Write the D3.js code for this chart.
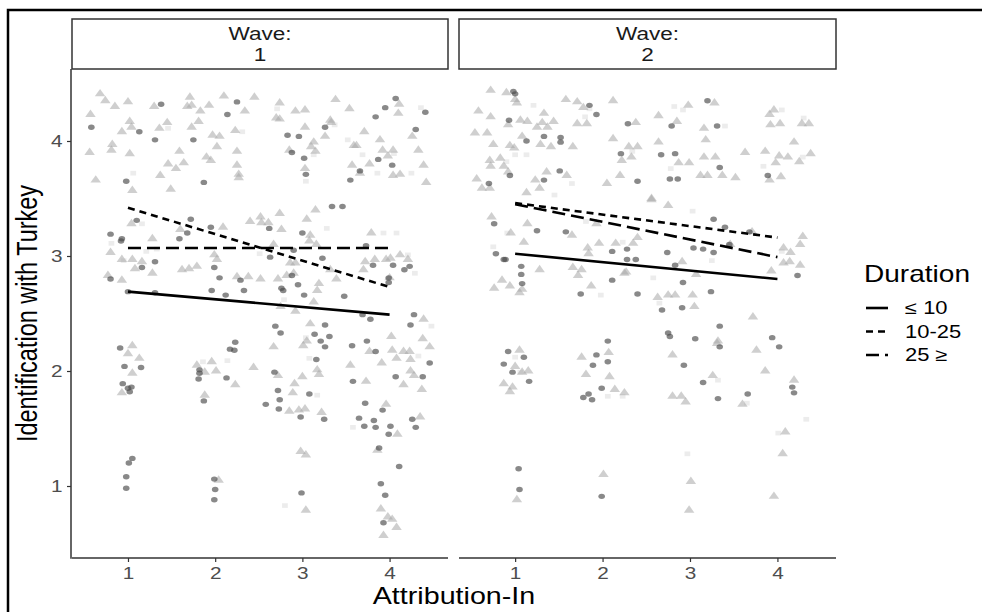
<!DOCTYPE html>
<html>
<head>
<meta charset="utf-8">
<script src="https://cdn.jsdelivr.net/npm/d3@7"></script>
<style>
  body { margin: 0; background: #fff; }
  svg { display: block; font-family: "Liberation Sans", Arial, sans-serif; }
</style>
</head>
<body>
<svg width="982" height="612"></svg>
<script>
// legend groups and facet labels
const durations = ["≤ 10", "10-25", "25 ≥"]
const waves = ["1", "2"]
const xTicks = [1, 2, 3, 4]
const yTicks = [1, 2, 3, 4]

// fitted lines, value at x = 1 and x = 4, in durations order
const fitW1Start = [2.69, 3.42, 3.07]
const fitW1End = [2.49, 2.73, 3.07]
const fitW2Start = [3.02, 3.46, 3.45]
const fitW2End = [2.80, 3.16, 2.99]

// jittered respondents, [attribution, identification]
const w1Le10 = [[0.58,4.12],[1.38,4.32],[1.13,4.08],[1.31,4.01],[0.98,3.65],[1.75,4.01],[1.87,3.64],[2.14,4.23],[2.25,4.34],[2.83,4.05],[2.96,4.04],[2.88,3.90],[3.02,3.85],[3.04,3.71],[3.26,4.12],[3.84,4.21],[3.95,4.29],[4.07,4.37],[4.30,4.10],[4.41,4.25],[3.87,3.84],[4.03,3.79],[3.66,3.74],[3.55,3.66],
  [1.10,3.31],[0.80,3.19],[0.93,3.15],[0.92,3.13],[0.80,2.80],[1.00,2.69],[1.31,2.95],[1.31,2.68],[1.16,2.90],[1.59,3.15],[1.68,3.20],[1.72,3.32],[1.99,2.90],[1.95,3.25],[2.05,2.81],[1.96,2.70],[2.12,2.66],[2.29,2.79],[2.33,2.70],[2.62,3.24],[2.63,2.99],[2.90,3.05],[2.76,2.72],[2.78,2.70],[2.88,2.83],[2.95,2.75],[3.00,3.20],[3.02,2.66],[3.23,2.98],[3.34,3.43],[3.46,3.43],[3.48,2.65],[3.73,3.09],[3.81,2.92],[3.99,2.77],[3.99,2.81],[4.04,2.92],[4.17,2.88],[4.23,2.91],[4.28,2.49],[4.24,2.40],[3.78,2.45],[3.69,2.49],[3.26,2.40],[2.69,2.39],
  [0.91,2.20],[0.96,2.04],[1.15,2.03],[0.94,1.89],[1.00,1.85],[1.04,1.86],[1.02,1.82],[1.05,1.24],[1.01,1.20],[0.98,1.08],[0.98,0.98],[2.23,2.25],[2.17,2.19],[2.22,2.18],[1.82,2.01],[1.82,1.98],[1.81,1.93],[2.13,1.94],[1.87,1.74],[1.99,1.06],[2.00,0.97],[1.99,0.88],[2.75,2.33],[2.68,1.99],[2.72,1.83],[2.74,1.75],[2.58,1.71],[2.73,1.67],[3.08,1.80],[2.98,1.60],[3.25,1.58],[3.16,2.10],[3.14,2.32],[3.21,2.26],[3.31,2.30],[3.26,2.21],[2.99,0.94],[3.57,2.22],[3.74,2.26],[3.84,2.17],[3.58,1.91],[3.72,1.72],[3.65,1.59],[3.71,1.52],[3.82,1.57],[3.84,1.51],[4.01,1.52],[3.92,1.66],[3.99,1.45],[4.07,1.95],[4.38,1.95],[4.46,2.07],[4.26,1.58],[4.30,1.51],[3.88,1.33],[4.11,1.17],[3.90,1.02],[3.95,0.92],[3.93,0.68]]

const w1Mid = [[0.57,4.23],[0.56,3.90],[0.68,4.41],[0.74,4.35],[0.85,4.30],[1.00,4.34],[0.82,3.97],[0.81,3.92],[1.02,3.89],[1.02,4.17],[0.93,4.08],[1.04,4.12],[0.63,3.66],[1.05,3.57],[1.30,4.30],[1.36,4.11],[1.45,4.16],[1.46,3.80],[1.55,3.76],[1.64,3.81],[1.37,3.70],[1.49,3.58],[1.59,3.91],[1.71,4.38],[1.68,4.30],[1.73,4.31],[1.83,4.26],[1.81,4.17],[1.73,4.12],[1.93,4.31],[1.97,4.05],[2.05,4.04],[2.02,3.95],[1.90,3.86],[1.95,3.83],[2.10,4.39],[2.23,4.09],[2.34,4.26],[2.45,4.38],[2.25,3.91],[2.25,3.79],[2.27,3.71],[2.27,3.68],[2.74,4.33],[2.70,4.20],[2.74,4.19],[2.92,4.26],[3.03,4.27],[3.03,4.12],[2.85,3.92],[3.10,3.95],[3.15,3.91],[3.26,4.04],[3.32,4.18],[3.33,4.16],[3.13,3.99],[3.38,4.36],[3.54,4.28],[3.59,3.96],[3.62,3.96],[3.71,4.08],[3.57,3.79],[3.66,3.72],[3.77,3.80],[3.89,4.01],[3.92,3.92],[3.98,3.87],[4.04,3.92],[4.10,4.24],[4.11,4.32],[4.26,4.04],[4.33,3.92],[4.39,3.79],[4.42,3.64],[4.04,3.70],[4.12,3.71],[3.03,3.76],
  [1.04,3.28],[0.80,3.03],[0.93,2.97],[1.05,2.97],[1.16,2.95],[1.28,3.15],[1.28,2.85],[0.93,2.79],[0.77,2.83],[1.08,2.89],[1.60,3.23],[1.62,2.88],[1.70,2.89],[1.79,2.91],[2.02,2.97],[2.09,3.25],[1.99,3.01],[2.25,2.82],[2.38,2.82],[2.52,3.34],[2.52,2.80],[2.53,3.29],[2.61,3.29],[2.40,3.30],[2.74,3.37],[2.76,3.23],[2.67,3.10],[2.72,2.80],[2.82,2.83],[2.86,2.94],[2.75,2.56],[2.92,2.52],[3.05,3.32],[3.15,3.40],[3.09,3.18],[3.08,3.13],[3.16,3.10],[3.17,2.70],[3.19,2.76],[3.13,2.60],[3.09,2.41],[2.92,2.94],[2.90,2.85],[3.32,2.88],[3.39,2.80],[3.70,2.88],[3.72,2.95],[3.79,3.20],[3.83,2.97],[3.96,2.97],[4.01,2.98],[4.12,3.01],[4.21,2.97],[4.00,2.81],[4.39,2.45],
  [1.05,2.22],[1.00,2.15],[1.13,2.11],[1.05,1.98],[0.93,1.81],[1.79,2.05],[1.96,2.08],[1.88,1.99],[2.01,2.00],[2.23,1.88],[1.88,1.79],[2.04,1.05],[2.67,2.21],[2.44,2.03],[3.01,2.22],[3.05,2.26],[3.17,2.01],[3.19,1.97],[2.72,1.96],[2.91,1.89],[3.00,1.95],[2.89,1.81],[2.85,1.65],[2.96,1.66],[3.03,1.67],[3.22,1.64],[2.98,1.30],[3.04,1.27],[3.04,0.79],[3.55,2.05],[3.77,2.17],[3.91,2.07],[3.73,1.91],[4.02,2.30],[4.03,2.18],[4.16,2.17],[4.23,2.17],[4.08,2.11],[4.24,2.10],[4.38,2.28],[4.46,2.21],[4.24,2.00],[4.28,1.96],[4.16,1.88],[4.37,1.84],[3.96,1.71],[4.35,1.60],[4.09,1.45],[3.86,1.31],[3.90,0.80],[3.98,0.73],[4.03,0.71],[4.08,0.64],[3.93,0.57]]

const w1Ge25 = [[1.06,3.72],[1.46,4.11],[2.31,4.08],[2.71,4.28],[3.37,4.14],[3.52,4.01],[3.69,3.88],[3.86,3.72],[4.25,3.72],[4.36,4.29],[4.05,3.89],[3.04,3.65],[3.13,3.88],
  [0.81,3.11],[0.95,2.96],[1.16,3.28],[1.21,3.04],[1.33,3.06],[2.51,3.02],[2.79,2.62],[3.28,3.24],[3.93,3.20],[4.08,3.20],[4.21,3.01],[4.29,2.85],[4.48,2.39],
  [1.86,2.08],[2.14,2.09],[3.08,2.11],[3.04,2.29],[3.17,1.79],[3.58,1.51],[4.33,2.13],[2.80,0.83]]

const w2Le10 = [[0.98,4.43],[1.00,4.41],[1.85,4.31],[1.93,4.23],[0.93,4.18],[1.13,4.00],[1.33,4.04],[1.52,4.03],[1.52,3.99],[2.29,4.15],[2.79,4.13],[3.20,4.35],[3.31,4.13],[2.21,3.89],[2.67,3.88],[2.83,3.89],[3.34,3.77],[2.77,3.67],[2.86,3.67],[2.40,3.65],[1.51,3.74],[1.33,3.66],[0.94,3.70],[0.70,3.63],[3.89,3.70],
  [0.76,3.28],[0.78,3.02],[0.87,2.97],[0.89,2.97],[1.07,2.91],[1.07,2.84],[1.08,2.76],[1.25,3.22],[1.58,3.21],[2.11,3.04],[2.28,3.06],[2.28,2.97],[2.38,2.97],[2.11,2.79],[1.75,2.67],[2.40,2.67],[2.74,3.03],[2.83,2.92],[2.92,2.77],[3.04,3.07],[3.15,3.06],[3.27,3.32],[3.27,3.03],[3.40,3.25],[3.68,3.21],[3.45,3.10],[3.24,2.69],[2.68,2.53],[2.91,2.55],[3.34,2.39],[4.23,2.83],
  [0.92,2.17],[1.10,2.12],[0.87,2.06],[0.97,1.99],[1.16,1.91],[2.06,2.26],[1.93,2.14],[1.89,2.05],[2.06,2.08],[1.99,1.85],[1.84,1.80],[1.78,1.77],[1.88,1.75],[2.75,2.33],[2.77,2.30],[3.06,2.28],[2.93,2.05],[3.15,1.90],[3.34,2.21],[3.32,1.76],[3.66,1.80],[3.94,2.29],[4.02,2.21],[4.17,1.86],[4.19,1.81],[1.04,1.15],[1.05,0.97],[1.99,0.91]]

const w2Mid = [[0.72,4.44],[0.90,4.42],[1.00,4.36],[1.02,4.33],[0.58,4.26],[0.72,4.21],[0.92,4.14],[1.06,4.18],[1.14,4.17],[1.25,4.12],[1.31,4.16],[1.37,4.12],[1.44,4.17],[1.33,4.24],[1.58,4.36],[1.71,4.34],[1.78,4.29],[1.71,4.15],[1.82,4.15],[2.12,4.35],[0.54,4.07],[0.68,4.07],[0.75,3.97],[0.94,3.96],[0.99,3.94],[1.08,4.04],[1.29,3.97],[1.41,3.95],[1.66,3.95],[0.71,3.83],[0.83,3.85],[0.72,3.78],[0.87,3.78],[0.92,3.73],[0.56,3.67],[0.62,3.59],[0.71,3.59],[1.23,3.66],[1.28,3.59],[1.36,3.73],[1.59,3.70],[1.13,3.55],[2.38,4.16],[2.64,4.22],[2.85,4.17],[2.98,4.31],[3.28,4.33],[3.16,4.11],[3.18,4.01],[2.30,3.95],[2.40,3.95],[2.12,4.02],[2.22,3.83],[2.33,3.86],[2.64,3.99],[2.99,3.81],[2.87,3.81],[3.16,3.86],[3.29,3.86],[3.12,3.70],[3.20,3.70],[3.37,3.70],[3.52,3.68],[3.63,3.90],[3.86,3.91],[4.02,3.87],[4.12,3.86],[4.25,3.82],[4.38,3.89],[4.19,3.99],[3.96,4.27],[3.91,4.23],[3.92,4.14],[4.03,4.15],[4.28,4.15],[4.36,4.15],[3.98,3.81],[3.91,3.66],[4.04,3.69],[2.05,3.63],[2.20,3.70],[2.56,3.50],
  [0.73,3.34],[1.14,3.28],[1.10,3.12],[1.28,2.88],[0.95,3.20],[0.85,2.79],[0.76,2.72],[0.94,2.74],[1.05,2.68],[1.08,2.71],[1.66,2.90],[1.76,2.88],[1.72,2.83],[1.87,2.74],[1.83,3.07],[1.84,3.02],[1.93,3.28],[1.96,3.11],[1.65,3.18],[2.15,3.11],[2.35,3.11],[2.40,3.16],[2.25,2.85],[2.27,2.86],[2.56,3.49],[2.75,3.44],[2.63,2.64],[2.75,2.66],[2.83,2.66],[2.91,2.95],[3.03,2.66],[3.05,2.56],[3.07,2.84],[3.72,2.47],[3.93,2.87],[4.07,3.07],[4.15,3.03],[4.26,3.10],[4.29,3.17],[4.07,2.94],[4.14,2.95],[4.26,2.92],[3.46,3.10],[3.71,3.21],
  [1.05,2.18],[1.00,2.04],[1.08,1.99],[1.15,2.00],[0.87,1.89],[0.97,1.86],[0.94,1.82],[1.76,2.12],[2.07,2.16],[1.81,1.97],[2.08,1.95],[2.14,1.84],[2.25,1.81],[2.80,2.14],[2.80,1.78],[2.90,1.78],[2.95,1.73],[3.32,2.26],[3.31,2.24],[3.26,1.96],[3.60,1.71],[3.76,2.18],[3.86,2.00],[4.19,1.92],[4.09,1.47],[4.06,1.28],[3.96,0.91],[1.02,0.88],[2.01,1.10],[3.01,1.04],[2.99,0.79]]

const w2Ge25 = [[1.21,4.31],[1.80,4.21],[1.85,4.28],[2.82,4.30],[2.92,4.27],[3.40,4.13],[1.00,3.88],[1.13,3.88],[0.90,3.82],[1.65,3.63],[1.45,3.53],[2.78,3.76],[3.84,3.78],[4.05,4.27],[4.30,4.20],[4.29,3.86],[2.34,3.91],
  [0.75,3.08],[0.91,3.20],[1.81,3.30],[2.23,3.12],[2.58,2.81],[3.03,3.39],[3.25,2.96],[1.98,2.66],[2.65,2.59],[4.05,3.04],
  [1.00,2.12],[1.06,1.99],[2.06,1.78],[2.23,1.78],[3.32,1.92],[3.65,1.72],[4.33,1.58],[4.01,1.46],[2.97,1.28]]

const svg = d3.select("svg")

const panelTop = 69, panelBottom = 558
const panelX = [[72, 448], [459, 836]]
// the source picture is a bit wider than tall, so glyphs get widened
const SX = 1.22

const y = d3.scaleLinear().domain([0.374, 4.626]).range([panelBottom, panelTop])

const dashes = ["none", "7,5", "13,6"]
const pointFill = ["#4a4a4a", "#a8a8a8", "#dcdcdc"]
const pointAlpha = [0.65, 0.55, 0.55]

const tri = d3.symbol().type(d3.symbolTriangle).size(32)
const sq = d3.symbol().type(d3.symbolSquare).size(22)

function label(parent, x, y, size, str, anchor, fill) {
  return parent.append("text")
    .attr("transform", `translate(${x},${y}) scale(${SX},1)`)
    .attr("text-anchor", anchor || "start")
    .attr("font-size", size)
    .attr("fill", fill || "#000")
    .text(str)
}

// outer frame, cut off at the right and bottom like the source
svg.append("rect")
  .attr("x", 8).attr("y", 10)
  .attr("width", 1100).attr("height", 800)
  .attr("fill", "none").attr("stroke", "#000").attr("stroke-width", 2.5)

const panelData = [
  { pts: [w1Le10, w1Mid, w1Ge25], start: fitW1Start, end: fitW1End },
  { pts: [w2Le10, w2Mid, w2Ge25], start: fitW2Start, end: fitW2End }
]

panelData.forEach((p, i) => {
  const x = d3.scaleLinear().domain([0.358, 4.67]).range(panelX[i])
  const g = svg.append("g")

  // strip
  g.append("rect")
    .attr("x", panelX[i][0]).attr("y", 19)
    .attr("width", panelX[i][1] - panelX[i][0]).attr("height", 50)
    .attr("fill", "#fff").attr("stroke", "#333").attr("stroke-width", 1.5)
  const cx = (panelX[i][0] + panelX[i][1]) / 2
  label(g, cx, 40, 18.5, "Wave:", "middle", "#1a1a1a")
  label(g, cx, 61, 18.5, waves[i], "middle", "#1a1a1a")

  // points: squares under triangles under circles
  g.append("g").selectAll("path")
    .data(p.pts[2]).join("path")
    .attr("d", sq)
    .attr("transform", d => `translate(${x(d[0])},${y(d[1])}) scale(${SX},1)`)
    .attr("fill", pointFill[2]).attr("fill-opacity", pointAlpha[2])
  g.append("g").selectAll("path")
    .data(p.pts[1]).join("path")
    .attr("d", tri)
    .attr("transform", d => `translate(${x(d[0])},${y(d[1])}) scale(${SX},1)`)
    .attr("fill", pointFill[1]).attr("fill-opacity", pointAlpha[1])
  g.append("g").selectAll("ellipse")
    .data(p.pts[0]).join("ellipse")
    .attr("cx", d => x(d[0])).attr("cy", d => y(d[1]))
    .attr("rx", 2.7 * SX).attr("ry", 2.7)
    .attr("fill", pointFill[0]).attr("fill-opacity", pointAlpha[0])

  // fitted lines
  g.append("g").selectAll("line")
    .data(durations).join("line")
    .attr("x1", x(1)).attr("x2", x(4))
    .attr("y1", (d, k) => y(p.start[k])).attr("y2", (d, k) => y(p.end[k]))
    .attr("stroke", "#000").attr("stroke-width", 2.6)
    .attr("stroke-dasharray", (d, k) => dashes[k])

  // x axis
  const xa = g.append("g").attr("transform", `translate(0,${panelBottom})`)
    .call(d3.axisBottom(x).tickValues(xTicks).tickSize(4).tickPadding(5).tickFormat(d3.format("d")))
  xa.select(".domain").attr("stroke", "#333").attr("stroke-width", 1.5)
    .attr("d", `M${panelX[i][0]},0H${panelX[i][1]}`)
  xa.selectAll(".tick line").attr("stroke", "#333").attr("stroke-width", 1.2)
  xa.selectAll(".tick text").attr("font-size", 17).attr("fill", "#4d4d4d")
    .attr("font-family", "Liberation Sans, Arial, sans-serif")
    .attr("transform", `scale(${SX},1)`)

  if (i === 0) {
    const ya = g.append("g").attr("transform", `translate(${panelX[0][0] - 1},0)`)
      .call(d3.axisLeft(y).tickValues(yTicks).tickSize(4).tickPadding(3).tickFormat(d3.format("d")))
    ya.select(".domain").attr("stroke", "#333").attr("stroke-width", 1.5)
      .attr("d", `M0,${panelTop}V${panelBottom + 0.75}`)
    ya.selectAll(".tick line").attr("stroke", "#333").attr("stroke-width", 1.2)
    ya.selectAll(".tick text").attr("font-size", 17).attr("fill", "#4d4d4d")
      .attr("font-family", "Liberation Sans, Arial, sans-serif")
      .attr("transform", `scale(${SX},1)`)
  }
})

// axis titles
label(svg, (panelX[0][0] + panelX[1][1]) / 2, 604, 23.5, "Attribution-In", "middle")
svg.append("text")
  .attr("transform", `translate(37,${(panelTop + panelBottom) / 2}) scale(${SX},1) rotate(-90)`)
  .attr("text-anchor", "middle").attr("font-size", 23.5).attr("fill", "#000")
  .text("Identification with Turkey")

// legend
const leg = svg.append("g").attr("transform", "translate(864,0)")
label(leg, 0, 282, 23, "Duration")
const item = leg.selectAll("g.item").data(durations).join("g")
  .attr("class", "item")
  .attr("transform", (d, k) => `translate(0,${308 + k * 23.5})`)
item.append("line")
  .attr("x1", 2).attr("x2", 24)
  .attr("stroke", "#000").attr("stroke-width", 2.6)
  .attr("stroke-dasharray", (d, k) => dashes[k])
item.each(function (d) { label(d3.select(this), 41, 6, 18, d) })
</script>
</body>
</html>
